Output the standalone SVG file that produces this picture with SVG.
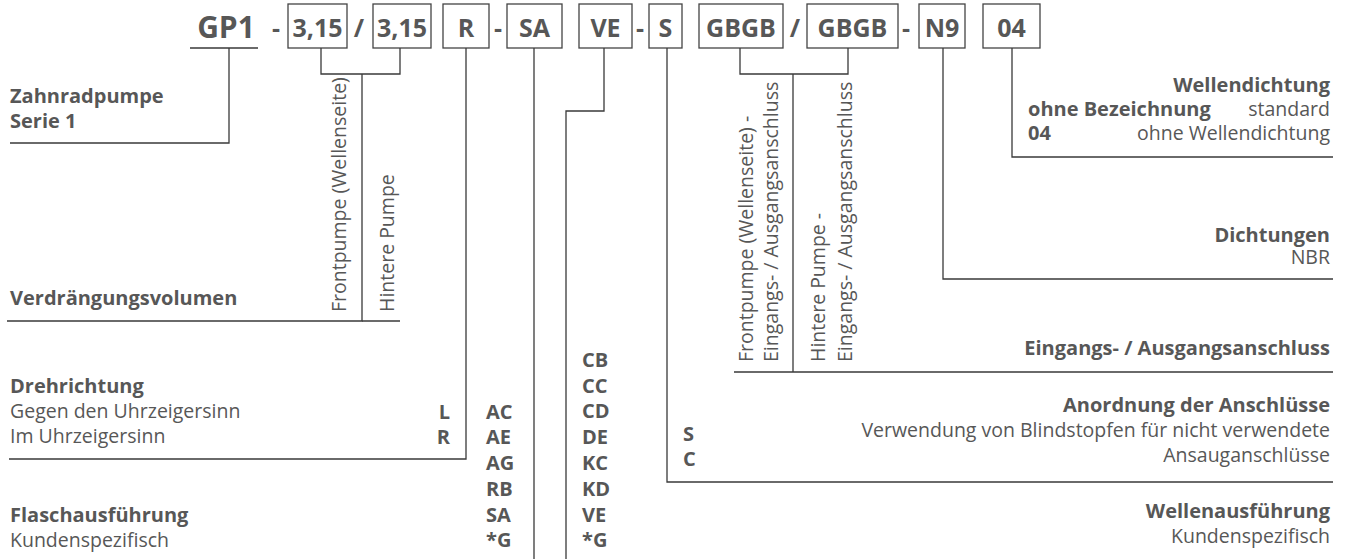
<svg xmlns="http://www.w3.org/2000/svg" width="1347" height="559" viewBox="0 0 1347 559">
<style>
text{font-family:"Open Sans","Noto Sans","DejaVu Sans",sans-serif;fill:#575757}
.b{font-weight:bold;font-size:20px}
.r{font-size:19.5px}
.code{font-weight:bold;font-size:25px;text-anchor:middle}
.gp{font-weight:bold;font-size:30px;text-anchor:middle}
.box{fill:none;stroke:#444;stroke-width:1.3}
.ln{fill:none;stroke:#3a3a3a;stroke-width:1.3}
.e{text-anchor:end}
.ital{font-weight:bold;font-size:20px}
</style>
<rect width="1347" height="559" fill="#fff"/>
<g id="code-row">
<text class="gp" x="226" y="38">GP1</text>
<text class="code" x="276" y="37">-</text>
<text class="code" x="359" y="37">/</text>
<text class="code" x="498" y="37">-</text>
<text class="code" x="640" y="37">-</text>
<text class="code" x="795" y="37">/</text>
<text class="code" x="906" y="37">-</text>
</g>
<g id="box-front"><rect class="box" x="288" y="4" width="59" height="44"/><text class="code" x="317.5" y="37">3,15</text></g>
<g id="box-rear"><rect class="box" x="373" y="4" width="58" height="44"/><text class="code" x="402" y="37">3,15</text></g>
<g id="box-r"><rect class="box" x="443" y="4" width="46" height="44"/><text class="code" x="466" y="37">R</text></g>
<g id="box-sa"><rect class="box" x="507" y="4" width="55" height="44"/><text class="code" x="534.5" y="37">SA</text></g>
<g id="box-ve"><rect class="box" x="579" y="4" width="53" height="44"/><text class="code" x="605.5" y="37">VE</text></g>
<g id="box-s"><rect class="box" x="649" y="4" width="33" height="44"/><text class="code" x="665.5" y="37">S</text></g>
<g id="box-gbgb1"><rect class="box" x="699" y="4" width="84" height="44"/><text class="code" x="741" y="37">GBGB</text></g>
<g id="box-gbgb2"><rect class="box" x="807" y="4" width="91" height="44"/><text class="code" x="852.5" y="37">GBGB</text></g>
<g id="box-n9"><rect class="box" x="919" y="4" width="46" height="44"/><text class="code" x="942" y="37">N9</text></g>
<g id="box-04"><rect class="box" x="983" y="4" width="57" height="44"/><text class="code" x="1011.5" y="37">04</text></g>

<g id="connectors">
<path class="ln" d="M190 48H258M229 48V143H10"/>
<path class="ln" d="M321 48V74H400V48M362 74V321H7"/>
<path class="ln" d="M400 321H362"/>
<path class="ln" d="M466 48V459H9"/>
<path class="ln" d="M534 48V559"/>
<path class="ln" d="M604 48V111H566V559"/>
<path class="ln" d="M667 48V482H1333"/>
<path class="ln" d="M740 48V74H848V48M793 74V372M734 372H1333"/>
<path class="ln" d="M943 48V279H1333"/>
<path class="ln" d="M1012 48V157H1333"/>
</g>

<g id="zahnradpumpe">
<text class="b" x="10" y="103">Zahnradpumpe</text>
<text class="b" x="10" y="128">Serie 1</text>
</g>
<g id="verdraengung">
<text class="b" x="10" y="305">Verdrängungsvolumen</text>
<text class="r" transform="translate(346 312) rotate(-90)">Frontpumpe (Wellenseite)</text>
<text class="r" transform="translate(394 312) rotate(-90)">Hintere Pumpe</text>
</g>
<g id="drehrichtung">
<text class="b" x="10" y="393">Drehrichtung</text>
<text class="r" x="10" y="418">Gegen den Uhrzeigersinn</text>
<text class="r" x="10" y="443">Im Uhrzeigersinn</text>
<text class="b e" x="450" y="419">L</text>
<text class="b e" x="450" y="444">R</text>
</g>
<g id="flansch">
<text class="b" x="10" y="522">Flaschausführung</text>
<text class="r" x="10" y="547">Kundenspezifisch</text>
<text class="b" x="486" y="419">AC</text>
<text class="b" x="486" y="444">AE</text>
<text class="b" x="486" y="470">AG</text>
<text class="b" x="486" y="496">RB</text>
<text class="b" x="486" y="522">SA</text>
<text class="b" x="486" y="547">*G</text>
</g>
<g id="welle-codes">
<text class="b" x="582" y="367">CB</text>
<text class="b" x="582" y="393">CC</text>
<text class="b" x="582" y="418">CD</text>
<text class="b" x="582" y="444">DE</text>
<text class="b" x="582" y="470">KC</text>
<text class="b" x="582" y="496">KD</text>
<text class="b" x="582" y="522">VE</text>
<text class="b" x="582" y="547">*G</text>
</g>
<g id="anschluss-rot">
<text class="r" transform="translate(753 362) rotate(-90)">Frontpumpe (Wellenseite) -</text>
<text class="r" transform="translate(778 362) rotate(-90)">Eingangs- / Ausgangsanschluss</text>
<text class="r" transform="translate(825 362) rotate(-90)">Hintere Pumpe -</text>
<text class="r" transform="translate(852 362) rotate(-90)">Eingangs- / Ausgangsanschluss</text>
</g>
<g id="wellendichtung">
<text class="b e" x="1330" y="92">Wellendichtung</text>
<text class="b" x="1028" y="116">ohne Bezeichnung</text>
<text class="r e" x="1330" y="116">standard</text>
<text class="b" x="1028" y="140">04</text>
<text class="r e" x="1330" y="140">ohne Wellendichtung</text>
</g>
<g id="dichtungen">
<text class="b e" x="1330" y="242">Dichtungen</text>
<text class="r e" x="1330" y="264">NBR</text>
</g>
<g id="eingang">
<text class="b e" x="1330" y="355">Eingangs- / Ausgangsanschluss</text>
</g>
<g id="anordnung">
<text class="b e" x="1330" y="412">Anordnung der Anschlüsse</text>
<text class="r e" x="1330" y="437">Verwendung von Blindstopfen für nicht verwendete</text>
<text class="r e" x="1330" y="462">Ansauganschlüsse</text>
<text class="b" x="683" y="441">S</text>
<text class="b" x="683" y="466">C</text>
</g>
<g id="wellenausfuehrung">
<text class="b e" x="1330" y="518">Wellenausführung</text>
<text class="r e" x="1330" y="543">Kundenspezifisch</text>
</g>
</svg>
